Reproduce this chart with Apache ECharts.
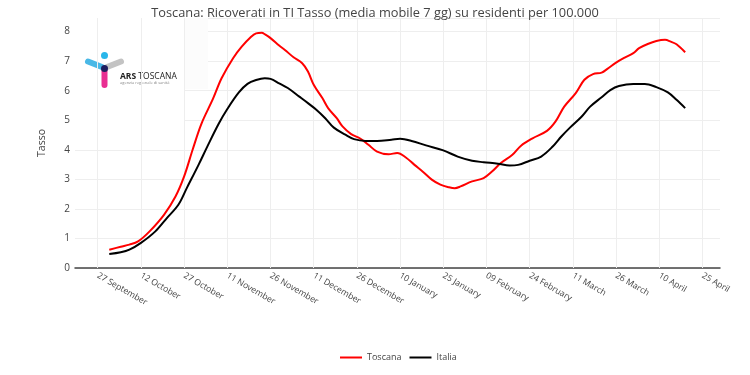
<!DOCTYPE html>
<html>
<head>
<meta charset="utf-8">
<script src="https://cdn.jsdelivr.net/npm/echarts@6/dist/echarts.min.js"></script>
<style>html,body{margin:0;padding:0;background:#fff}#c{width:750px;height:375px}</style>
</head>
<body>
<div id="c"></div>
<script>
const titleText = 'Toscana: Ricoverati in TI Tasso (media mobile 7 gg) su residenti per 100.000';
const seriesNames = ['Toscana', 'Italia'];
const yTicks = [0, 1, 2, 3, 4, 5, 6, 7, 8];
const xTickDates = ['2020-09-27','2020-10-12','2020-10-27','2020-11-11','2020-11-26','2020-12-11','2020-12-26','2021-01-10','2021-01-25','2021-02-09','2021-02-24','2021-03-11','2021-03-26','2021-04-10','2021-04-25'];
const monthNames = ['January','February','March','April','May','June','July','August','September','October','November','December'];

const toscanaDates = ['2020-10-01','2020-10-05','2020-10-08','2020-10-11','2020-10-15','2020-10-20','2020-10-24','2020-10-27','2020-10-30','2020-11-02','2020-11-06','2020-11-09','2020-11-13','2020-11-16','2020-11-19','2020-11-21','2020-11-23','2020-11-24','2020-11-26','2020-11-29','2020-12-01','2020-12-04','2020-12-07','2020-12-09','2020-12-11','2020-12-14','2020-12-16','2020-12-19','2020-12-21','2020-12-24','2020-12-27','2020-12-30','2021-01-02','2021-01-06','2021-01-09','2021-01-12','2021-01-15','2021-01-18','2021-01-21','2021-01-24','2021-01-27','2021-01-29','2021-01-31','2021-02-04','2021-02-08','2021-02-11','2021-02-14','2021-02-18','2021-02-21','2021-02-25','2021-03-02','2021-03-05','2021-03-08','2021-03-12','2021-03-15','2021-03-18','2021-03-21','2021-03-23','2021-03-26','2021-03-29','2021-04-01','2021-04-03','2021-04-06','2021-04-09','2021-04-12','2021-04-14','2021-04-16','2021-04-19'];
const toscanaValues = [0.62,0.72,0.79,0.90,1.24,1.80,2.42,3.10,4.02,4.88,5.72,6.42,7.10,7.49,7.80,7.94,7.96,7.91,7.78,7.53,7.38,7.13,6.93,6.65,6.20,5.75,5.41,5.07,4.79,4.53,4.39,4.17,3.94,3.85,3.89,3.74,3.49,3.25,2.99,2.82,2.73,2.70,2.76,2.93,3.04,3.27,3.55,3.83,4.14,4.39,4.64,4.96,5.46,5.92,6.37,6.56,6.61,6.74,6.95,7.12,7.27,7.44,7.58,7.68,7.72,7.66,7.57,7.30];

const italiaDates = ['2020-10-01','2020-10-05','2020-10-08','2020-10-12','2020-10-17','2020-10-21','2020-10-25','2020-10-28','2020-11-01','2020-11-04','2020-11-08','2020-11-11','2020-11-15','2020-11-18','2020-11-21','2020-11-24','2020-11-26','2020-11-29','2020-12-02','2020-12-06','2020-12-09','2020-12-12','2020-12-15','2020-12-18','2020-12-22','2020-12-25','2020-12-29','2021-01-02','2021-01-07','2021-01-10','2021-01-14','2021-01-19','2021-01-25','2021-01-30','2021-02-04','2021-02-08','2021-02-13','2021-02-17','2021-02-20','2021-02-24','2021-02-28','2021-03-04','2021-03-07','2021-03-10','2021-03-14','2021-03-17','2021-03-21','2021-03-24','2021-03-27','2021-04-01','2021-04-05','2021-04-09','2021-04-13','2021-04-16','2021-04-19'];
const italiaValues = [0.47,0.53,0.62,0.85,1.24,1.69,2.14,2.72,3.49,4.10,4.88,5.38,5.94,6.23,6.36,6.42,6.40,6.25,6.09,5.80,5.58,5.35,5.07,4.75,4.51,4.36,4.30,4.30,4.34,4.37,4.30,4.15,3.98,3.77,3.63,3.58,3.53,3.47,3.49,3.63,3.77,4.11,4.45,4.75,5.12,5.46,5.78,6.02,6.16,6.23,6.23,6.12,5.94,5.69,5.41];

// x coordinate = days since the first tick date (UTC-safe)
const ORIGIN = xTickDates[0];
function dayOf(s){ const p = s.split('-').map(Number); const o = ORIGIN.split('-').map(Number);
  return Math.round((Date.UTC(p[0], p[1]-1, p[2]) - Date.UTC(o[0], o[1]-1, o[2])) / 86400000); }
function labelOf(day){ const o = ORIGIN.split('-').map(Number); const d = new Date(Date.UTC(o[0], o[1]-1, o[2]) + Math.round(day) * 86400000);
  return String(d.getUTCDate()).padStart(2, '0') + ' ' + monthNames[d.getUTCMonth()]; }
const xTickValues = xTickDates.map(dayOf);
const xMin = -7.9, xMax = 216.1;

const chart = echarts.init(document.getElementById('c'), null, {renderer: 'canvas'});
const font = "'Open Sans', 'Noto Sans', sans-serif";
const gridLeft = 75, gridRight = 30, gridTop = 18, gridBottom = 107;

chart.setOption({
  animation: false,
  textStyle: {fontFamily: font},
  title: {
    text: titleText, left: 'center', top: 2,
    textStyle: {fontFamily: font, fontSize: 12.8, fontWeight: 'normal', color: '#444'}
  },
  legend: {
    data: seriesNames, left: 335, top: 348,
    icon: 'rect', itemWidth: 22, itemHeight: 2, itemGap: 8,
    textStyle: {fontFamily: font, fontSize: 9, color: '#444'}
  },
  grid: {left: gridLeft, right: gridRight, top: gridTop, bottom: gridBottom, containLabel: false},
  xAxis: {
    type: 'value', min: xMin, max: xMax,
    axisLine: {show: true, onZero: true, lineStyle: {color: '#444', width: 1.5}},
    axisTick: {show: false, customValues: xTickValues},
    splitLine: {show: false},
    axisLabel: {
      customValues: xTickValues, rotate: -30, margin: 7,
      fontFamily: font, fontSize: 8.6, color: '#444',
      formatter: function (v) { return labelOf(v); }
    }
  },
  yAxis: {
    type: 'value', min: 0, max: 8.46, interval: 1,
    name: 'Tasso', nameLocation: 'middle', nameGap: 27,
    nameTextStyle: {fontFamily: font, fontSize: 10.5, color: '#444'},
    axisLine: {show: false}, axisTick: {show: false},
    axisLabel: {
      fontFamily: font, fontSize: 10, color: '#444', margin: 5,
      formatter: function (v) { return yTicks.indexOf(v) >= 0 ? String(v) : ''; }
    },
    splitLine: {lineStyle: {color: '#eeeeee', width: 1}}
  },
  graphic: [
    {type: 'rect', z: 1, shape: {x: gridLeft, y: gridTop, width: 110, height: 107}, style: {fill: '#ffffff'}},
    {type: 'rect', z: 1, shape: {x: 185, y: gridTop, width: 23, height: 71}, style: {fill: '#fcfcfc'}},
    {type: 'line', z: 3, shape: {x1: 88, y1: 61.5, x2: 102, y2: 67}, style: {stroke: '#29abe2', lineWidth: 6, lineCap: 'round', opacity: 0.85}},
    {type: 'line', z: 3, shape: {x1: 107, y1: 67, x2: 121, y2: 61.5}, style: {stroke: '#b8b8b8', lineWidth: 6, lineCap: 'round', opacity: 0.85}},
    {type: 'line', z: 3, shape: {x1: 104.5, y1: 71, x2: 104.5, y2: 85}, style: {stroke: '#e5097f', lineWidth: 6, lineCap: 'round', opacity: 0.85}},
    {type: 'circle', z: 3, shape: {cx: 104.5, cy: 55.5, r: 3.5}, style: {fill: '#29b6ea'}},
    {type: 'circle', z: 4, shape: {cx: 104.5, cy: 68.5, r: 3.5}, style: {fill: '#1d1d5e'}},
    {type: 'text', z: 3, style: {x: 120, y: 72, text: '{b|ARS }{n|TOSCANA}',
      rich: {b: {fontFamily: font, fontSize: 8.5, fontWeight: 'bold', fill: '#222'}, n: {fontFamily: font, fontSize: 8.5, fill: '#222'}}}},
    {type: 'text', z: 3, style: {x: 120, y: 81, text: 'agenzia regionale di sanità', fontFamily: font, fontSize: 4, fill: '#888'}}
  ],
  series: [
    {
      name: '_grid', type: 'line', z: 0, data: [], silent: true,
      markLine: {
        silent: true, symbol: 'none', label: {show: false},
        lineStyle: {color: '#eeeeee', width: 1, type: 'solid'},
        data: xTickValues.map(v => ({xAxis: v}))
      }
    },
    {
      name: seriesNames[0], type: 'line', z: 5,
      data: toscanaDates.map((d, i) => [dayOf(d), toscanaValues[i]]),
      symbol: 'none', smooth: 0.35,
      lineStyle: {color: '#ff0000', width: 2}, itemStyle: {color: '#ff0000'}
    },
    {
      name: seriesNames[1], type: 'line', z: 5,
      data: italiaDates.map((d, i) => [dayOf(d), italiaValues[i]]),
      symbol: 'none', smooth: 0.35,
      lineStyle: {color: '#000000', width: 2}, itemStyle: {color: '#000000'}
    }
  ]
});
</script>
</body>
</html>
